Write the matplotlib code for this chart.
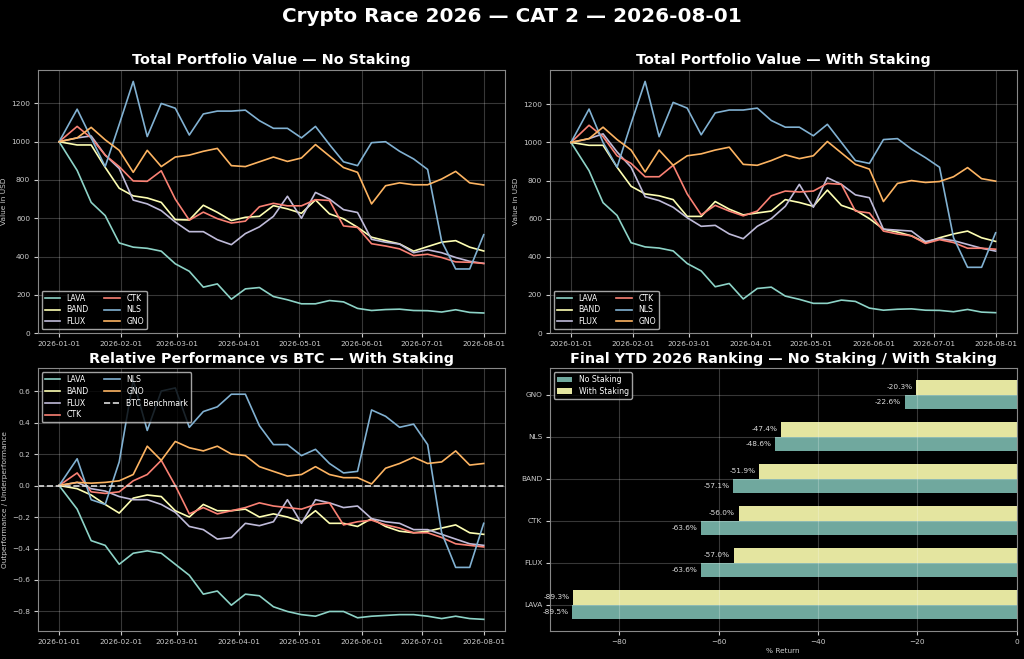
import matplotlib
matplotlib.use("Agg")
import matplotlib.pyplot as plt
import matplotlib.dates as mdates
import pandas as pd
import numpy as np

plt.style.use("dark_background")

# ---- data ----
dates = [pd.Timestamp("2026-01-01")] + list(pd.date_range("2026-01-10", "2026-08-01", freq="7D"))

assets = ["LAVA", "BAND", "FLUX", "CTK", "NLS", "GNO"]
colors = ["#8dd3c7", "#feffb3", "#bfbbd9", "#fa8174", "#81b1d2", "#fdb462"]

no_lava = [1000, 850, 683, 614, 471, 449, 443, 428, 362, 323, 240, 257, 177, 231, 238, 191, 174, 153, 153, 170, 163, 129, 118, 123, 125, 118, 117, 110, 122, 108, 105]
no_band = [1000, 983, 983, 866, 757, 717, 706, 683, 593, 591, 668, 631, 588, 605, 610, 666, 649, 626, 696, 623, 597, 553, 501, 483, 466, 428, 452, 475, 483, 449, 429]
no_flux = [1000, 1020, 1030, 930, 860, 695, 675, 640, 580, 530, 530, 488, 462, 520, 555, 610, 715, 600, 735, 700, 645, 630, 490, 475, 465, 420, 435, 420, 395, 375, 364]
no_ctk = [1000, 1080, 1020, 930, 870, 795, 793, 848, 700, 590, 632, 598, 575, 585, 660, 678, 665, 665, 697, 693, 560, 552, 467, 455, 440, 405, 412, 395, 372, 370, 364]
no_nls = [1000, 1170, 1020, 870, 1090, 1315, 1027, 1200, 1175, 1035, 1145, 1160, 1160, 1165, 1110, 1070, 1070, 1020, 1080, 985, 895, 875, 995, 1000, 950, 910, 855, 480, 335, 335, 514]
no_gno = [1000, 1020, 1075, 1010, 955, 840, 955, 870, 920, 930, 950, 965, 875, 870, 895, 920, 897, 915, 985, 925, 865, 840, 675, 770, 785, 775, 775, 805, 845, 785, 774]

ws_lava = [1000, 852, 684, 617, 474, 452, 446, 431, 365, 326, 243, 260, 179, 234, 241, 194, 177, 156, 156, 173, 166, 131, 120, 125, 127, 120, 119, 112, 124, 110, 107]
ws_band = [1000, 985, 985, 870, 770, 730, 720, 700, 612, 612, 690, 650, 620, 630, 640, 700, 685, 665, 750, 670, 645, 600, 545, 530, 510, 475, 500, 520, 535, 500, 481]
ws_flux = [1000, 1020, 1045, 950, 870, 715, 695, 660, 605, 560, 565, 520, 495, 560, 600, 665, 780, 660, 815, 780, 725, 710, 545, 540, 535, 480, 495, 485, 465, 445, 430]
ws_ctk = [1000, 1090, 1030, 930, 890, 820, 820, 880, 730, 620, 670, 640, 615, 640, 720, 745, 740, 745, 785, 780, 640, 630, 535, 520, 510, 470, 490, 475, 445, 445, 440]
ws_nls = [1000, 1175, 1000, 870, 1100, 1320, 1030, 1210, 1180, 1040, 1155, 1170, 1170, 1180, 1115, 1080, 1080, 1035, 1095, 1000, 905, 890, 1015, 1020, 965, 920, 870, 500, 345, 345, 526]
ws_gno = [1000, 1020, 1080, 1015, 960, 845, 960, 880, 930, 940, 960, 975, 885, 880, 905, 935, 915, 930, 1005, 945, 885, 860, 690, 785, 800, 790, 795, 820, 868, 810, 797]

rel_lava = [0, -0.15, -0.35, -0.38, -0.50, -0.43, -0.415, -0.43, -0.50, -0.57, -0.69, -0.67, -0.76, -0.69, -0.70, -0.77, -0.80, -0.82, -0.83, -0.80, -0.80, -0.84, -0.83, -0.825, -0.82, -0.82, -0.83, -0.845, -0.83, -0.845, -0.85]
rel_band = [0, -0.02, -0.06, -0.12, -0.175, -0.08, -0.06, -0.07, -0.16, -0.20, -0.12, -0.16, -0.16, -0.15, -0.20, -0.18, -0.20, -0.23, -0.16, -0.24, -0.24, -0.26, -0.21, -0.26, -0.29, -0.30, -0.29, -0.27, -0.25, -0.30, -0.31]
rel_flux = [0, 0.02, -0.02, -0.035, -0.07, -0.09, -0.09, -0.12, -0.17, -0.26, -0.28, -0.34, -0.33, -0.24, -0.255, -0.23, -0.09, -0.24, -0.09, -0.11, -0.14, -0.13, -0.21, -0.23, -0.24, -0.28, -0.28, -0.31, -0.34, -0.37, -0.38]
rel_ctk = [0, 0.08, -0.04, -0.05, -0.04, 0.03, 0.07, 0.16, 0.0, -0.18, -0.14, -0.18, -0.16, -0.14, -0.11, -0.13, -0.14, -0.15, -0.12, -0.11, -0.25, -0.23, -0.22, -0.25, -0.27, -0.30, -0.30, -0.33, -0.37, -0.38, -0.39]
rel_nls = [0, 0.17, -0.09, -0.12, 0.15, 0.67, 0.35, 0.60, 0.62, 0.37, 0.47, 0.50, 0.58, 0.58, 0.38, 0.26, 0.26, 0.19, 0.23, 0.14, 0.08, 0.09, 0.48, 0.44, 0.37, 0.39, 0.26, -0.30, -0.52, -0.52, -0.24]
rel_gno = [0, 0.02, 0.015, 0.02, 0.03, 0.07, 0.25, 0.16, 0.28, 0.24, 0.22, 0.25, 0.20, 0.19, 0.12, 0.09, 0.06, 0.07, 0.12, 0.07, 0.05, 0.05, 0.01, 0.11, 0.14, 0.18, 0.14, 0.15, 0.22, 0.13, 0.14]

rank_assets = ["LAVA", "FLUX", "CTK", "BAND", "NLS", "GNO"]
rank_no_staking = [-89.5, -63.6, -63.6, -57.1, -48.6, -22.6]
rank_with_staking = [-89.3, -57.0, -56.0, -51.9, -47.4, -20.3]

no_series = [no_lava, no_band, no_flux, no_ctk, no_nls, no_gno]
ws_series = [ws_lava, ws_band, ws_flux, ws_ctk, ws_nls, ws_gno]
rel_series = [rel_lava, rel_band, rel_flux, rel_ctk, rel_nls, rel_gno]

TICK = 5.3
LEG = 5.6
TITLE = 10.4
LW = 1.2

# ---- figure ----
fig, axes = plt.subplots(2, 2, figsize=(10.24, 6.59), dpi=100)
fig.patch.set_facecolor("black")
fig.subplots_adjust(left=0.037, right=0.993, top=0.894, bottom=0.042, wspace=0.096, hspace=0.133)
fig.suptitle("Crypto Race 2026 — CAT 2 — 2026-08-01", fontsize=14.4, fontweight="bold", y=0.99)

def style_axis(ax):
    ax.tick_params(labelsize=TICK, colors="#cccccc", length=3, pad=2.5)
    ax.grid(True, alpha=0.22)
    for s in ax.spines.values():
        s.set_color("#888888")

def style_date_axis(ax):
    ax.xaxis.set_major_locator(mdates.MonthLocator())
    ax.xaxis.set_major_formatter(mdates.DateFormatter("%Y-%m-%d"))
    style_axis(ax)

for ax, series, title in [(axes[0, 0], no_series, "Total Portfolio Value — No Staking"),
                          (axes[0, 1], ws_series, "Total Portfolio Value — With Staking")]:
    for name, vals, c in zip(assets, series, colors):
        ax.plot(dates, vals, color=c, lw=LW, label=name)
    ax.set_ylim(bottom=0)
    ax.set_title(title, fontsize=TITLE, fontweight="bold", pad=4)
    ax.set_ylabel("Value in USD", fontsize=TICK, color="#cccccc", labelpad=3)
    style_date_axis(ax)
    ax.legend(loc="lower left", ncol=2, fontsize=LEG, labelspacing=0.35)

ax = axes[1, 0]
for name, vals, c in zip(assets, rel_series, colors):
    ax.plot(dates, vals, color=c, lw=LW, label=name)
ax.axhline(0, color="#dddddd", ls="--", lw=LW, label="BTC Benchmark")
ax.set_title("Relative Performance vs BTC — With Staking", fontsize=TITLE, fontweight="bold", pad=4)
ax.set_ylabel("Outperformance / Underperformance", fontsize=TICK, color="#cccccc", labelpad=3)
style_date_axis(ax)
ax.legend(loc="upper left", ncol=2, fontsize=LEG, labelspacing=0.35)

ax = axes[1, 1]
y = np.arange(len(rank_assets))
h = 0.35
ax.barh(y - h / 2, rank_no_staking, height=h, color="#8dd3c7", alpha=0.8, label="No Staking")
ax.barh(y + h / 2, rank_with_staking, height=h, color="#feffb3", alpha=0.9, label="With Staking")
for yi, v in zip(y, rank_no_staking):
    ax.text(v - 0.7, yi - h / 2, f"{v:.1f}%", ha="right", va="center", fontsize=TICK, color="#dddddd")
for yi, v in zip(y, rank_with_staking):
    ax.text(v - 0.7, yi + h / 2, f"{v:.1f}%", ha="right", va="center", fontsize=TICK, color="#dddddd")
ax.set_yticks(y)
ax.set_yticklabels(rank_assets)
ax.set_xlabel("% Return", fontsize=TICK, color="#cccccc", labelpad=2)
ax.set_title("Final YTD 2026 Ranking — No Staking / With Staking", fontsize=TITLE, fontweight="bold", pad=4)
style_axis(ax)
ax.legend(loc="upper left", fontsize=LEG, labelspacing=0.35)

fig.savefig("out.png", dpi=100, facecolor="black")
